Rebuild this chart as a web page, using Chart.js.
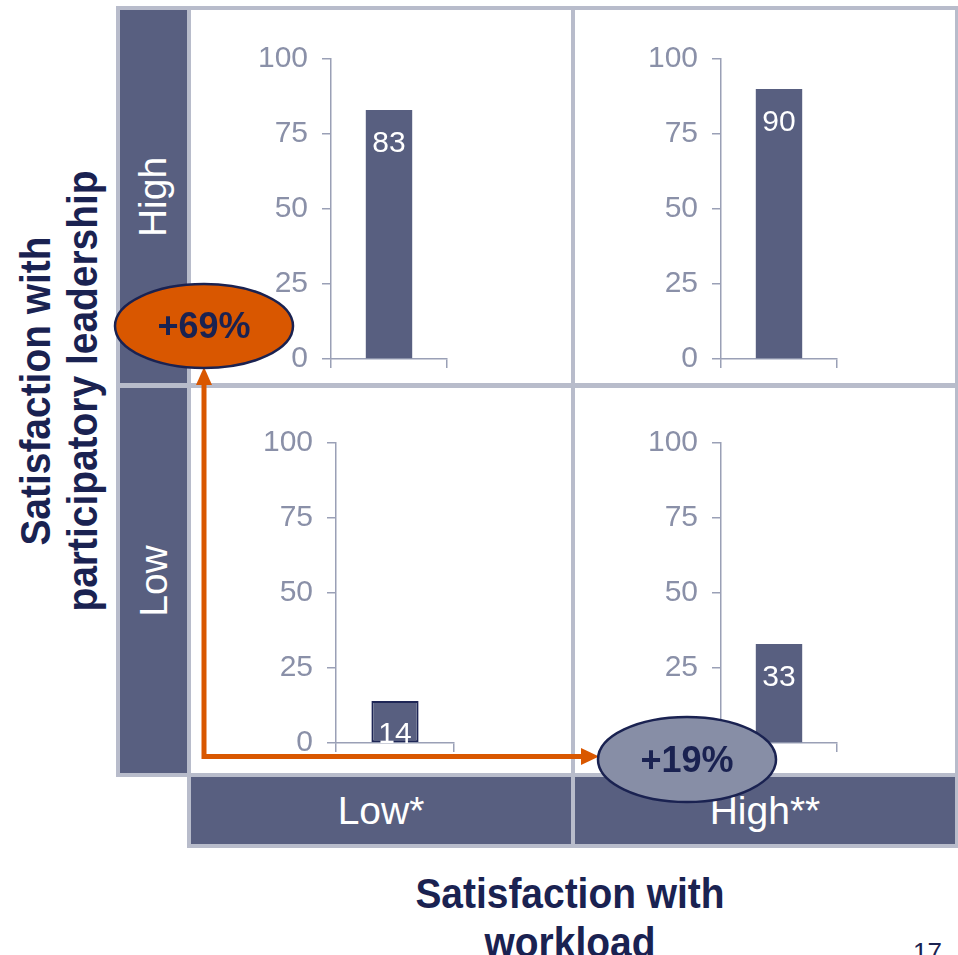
<!DOCTYPE html>
<html>
<head>
<meta charset="utf-8">
<script src="https://cdn.jsdelivr.net/npm/chart.js@4.4.1/dist/chart.umd.min.js"></script>
<style>
  html, body {
    margin: 0;
    padding: 0;
    width: 958px;
    height: 955px;
    overflow: hidden;
    background: #fff;
    font-family: "Liberation Sans", Arial, sans-serif;
  }
  .box { position: absolute; }
  .frame { background: #b8bccb; }
  .cell { background: #fff; }
  .band {
    background: #585f80;
    color: #fff;
    font-size: 39px;
    display: flex;
    align-items: center;
    justify-content: center;
    white-space: nowrap;
  }
  .band.vert span { transform: rotate(-90deg); }
  .title {
    color: #1a2251;
    font-weight: bold;
    font-size: 43px;
    text-align: center;
    white-space: nowrap;
  }
  canvas { position: absolute; }
  #overlay { position: absolute; left: 0; top: 0; z-index: 5; }
</style>
</head>
<body>

<!-- grey outer frame -->
<div class="box frame" style="left:116px;top:6px;width:842px;height:771px"></div>
<div class="box frame" style="left:187px;top:773px;width:771px;height:75px"></div>

<!-- row headers (leadership) -->
<div class="box band vert" id="rowHigh" style="left:120px;top:10px;width:67px;height:373px"><span></span></div>
<div class="box band vert" id="rowLow" style="left:120px;top:388px;width:67px;height:385px"><span></span></div>

<!-- white cells -->
<div class="box cell" style="left:191px;top:10px;width:380px;height:373px"></div>
<div class="box cell" style="left:575px;top:10px;width:380px;height:373px"></div>
<div class="box cell" style="left:191px;top:388px;width:380px;height:385px"></div>
<div class="box cell" style="left:575px;top:388px;width:380px;height:385px"></div>

<!-- column headers (workload) -->
<div class="box band" id="colLow" style="left:191px;top:777px;width:380px;height:67px"></div>
<div class="box band" id="colHigh" style="left:575px;top:777px;width:380px;height:67px"></div>

<canvas id="chartTL" width="202" height="342" style="left:251px;top:39px"></canvas>
<canvas id="chartTR" width="202" height="342" style="left:641px;top:39px"></canvas>
<canvas id="chartBL" width="204" height="342" style="left:256px;top:423px"></canvas>
<canvas id="chartBR" width="202" height="342" style="left:641px;top:423px"></canvas>

<!-- axis titles -->
<div class="box title" style="left:-221px;top:344px;width:560px;height:94px;line-height:47px;transform:rotate(-90deg) scaleX(0.905)">Satisfaction with<br>participatory leadership</div>
<div class="box title" style="left:270px;top:869px;width:600px;line-height:49px;transform:scaleX(0.905)">Satisfaction with<br>workload</div>
<div class="box" style="left:913px;top:939px;font-size:26px;line-height:26px;color:#1a2251">17</div>

<!-- arrows and change bubbles -->
<svg id="overlay" width="958" height="955">
  <polyline points="204,382 204,756.5 584,756.5" fill="none" stroke="#d95700" stroke-width="5" stroke-linejoin="miter"/>
  <polygon points="204,367 196,385 212,385" fill="#d95700"/>
  <polygon points="599,756.5 581,748 581,765" fill="#d95700"/>
  <ellipse cx="204" cy="326" rx="89" ry="42" fill="#d95700" stroke="#1a2251" stroke-width="2.5"/>
  <text id="gainLeadership" x="204" y="338" text-anchor="middle" font-family="Liberation Sans, Arial, sans-serif" font-weight="bold" font-size="36" fill="#1a2251"></text>
  <ellipse cx="687" cy="759.5" rx="89" ry="42.5" fill="#878ea6" stroke="#1a2251" stroke-width="2.5"/>
  <text id="gainWorkload" x="687" y="772" text-anchor="middle" font-family="Liberation Sans, Arial, sans-serif" font-weight="bold" font-size="36" fill="#1a2251"></text>
</svg>

<script>
// satisfaction levels on each axis
const workloadLevels = ['Low*', 'High**'];
const leadershipLevels = ['High', 'Low'];

// scores per cell, columns follow workloadLevels
const highLeadershipScores = [83, 90];
const lowLeadershipScores = [14, 33];

const yTickValues = [0, 25, 50, 75, 100];

// relative differences shown in the bubbles
const leadershipGain = '+69%';
const workloadGain = '+19%';

const SLATE = '#585f80';
const NAVY = '#1e2656';
const AXIS = '#9aa0b6';
const TICK = '#8a90a8';
const FONT = '"Liberation Sans", Arial, sans-serif';

document.querySelector('#rowHigh span').textContent = leadershipLevels[0];
document.querySelector('#rowLow span').textContent = leadershipLevels[1];
document.getElementById('colLow').textContent = workloadLevels[0];
document.getElementById('colHigh').textContent = workloadLevels[1];
document.getElementById('gainLeadership').textContent = leadershipGain;
document.getElementById('gainWorkload').textContent = workloadGain;

// white value text inside the top of each bar
const valueLabels = {
  id: 'valueLabels',
  afterDatasetsDraw(chart) {
    const ctx = chart.ctx;
    const ds = chart.data.datasets[0];
    ctx.save();
    ctx.fillStyle = '#fff';
    ctx.font = '30px ' + FONT;
    ctx.textAlign = 'center';
    ctx.textBaseline = 'middle';
    chart.getDatasetMeta(0).data.forEach((bar, i) => {
      ctx.fillText(ds.data[i], bar.x, bar.y + 34);
    });
    ctx.restore();
  }
};

function makeChart(canvasId, category, value, outlined) {
  return new Chart(document.getElementById(canvasId), {
    type: 'bar',
    data: {
      labels: [category],
      datasets: [{
        data: [value],
        backgroundColor: SLATE,
        borderColor: NAVY,
        borderWidth: outlined ? 2 : 0,
        borderSkipped: false,
        barPercentage: 0.4,
        categoryPercentage: 1
      }]
    },
    options: {
      responsive: false,
      animation: false,
      layout: { padding: { top: 20, bottom: 10, left: 0, right: 6 } },
      plugins: { legend: { display: false }, tooltip: { enabled: false } },
      scales: {
        x: {
          ticks: { display: false },
          grid: { drawOnChartArea: false, tickLength: 9, color: AXIS, lineWidth: 1.5 },
          border: { color: AXIS, width: 1.5 },
          afterFit: (scale) => {
            scale.height = 12;
            scale.paddingLeft = 0;
            scale.paddingRight = 0;
          }
        },
        y: {
          min: 0,
          max: 100,
          afterBuildTicks: (scale) => { scale.ticks = yTickValues.map(v => ({ value: v })); },
          ticks: { color: TICK, padding: 14, font: { size: 30, family: FONT } },
          grid: { drawOnChartArea: false, tickLength: 9, color: AXIS, lineWidth: 1.5 },
          border: { color: AXIS, width: 1.5 },
          afterFit: (scale) => {
            scale.width = 80;
            scale.paddingTop = 0;
            scale.paddingBottom = 0;
          }
        }
      }
    },
    plugins: [valueLabels]
  });
}

makeChart('chartTL', workloadLevels[0], highLeadershipScores[0], false);
makeChart('chartTR', workloadLevels[1], highLeadershipScores[1], false);
makeChart('chartBL', workloadLevels[0], lowLeadershipScores[0], true);
makeChart('chartBR', workloadLevels[1], lowLeadershipScores[1], false);
</script>
</body>
</html>
